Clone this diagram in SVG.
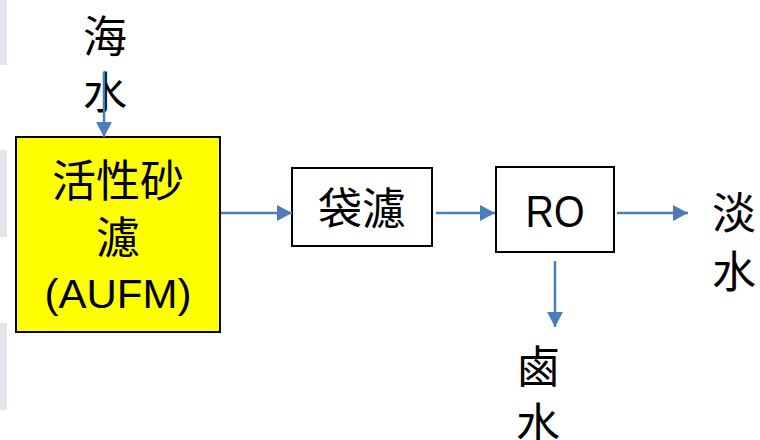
<svg xmlns="http://www.w3.org/2000/svg" width="760" height="440" viewBox="0 0 760 440">
<style>
.box{stroke:#000;stroke-width:2}
.cjk{font-family:"Noto Sans CJK TC","Noto Sans CJK SC",sans-serif;font-size:44px;fill:#000;text-anchor:middle}
.lat{font-family:"Liberation Sans",Arial,sans-serif;fill:#000;text-anchor:middle}
.conn{stroke:#4A7EBB;stroke-width:2.5;fill:none;marker-end:url(#ah)}
</style>
<defs>
<marker id="ah" markerUnits="userSpaceOnUse" markerWidth="15" markerHeight="16" refX="15" refY="8" orient="auto">
<path d="M0,0 L15,8 L0,16 Z" fill="#4A7EBB"/>
</marker>
</defs>
<rect width="760" height="440" fill="#fff"/>
<g id="sidebars" fill="#E1E4E8">
<rect x="0" y="0" width="7" height="65"/>
<rect x="0" y="150" width="7" height="87"/>
<rect x="0" y="323" width="7" height="87"/>
</g>
<g id="node-aufm">
<rect class="box" x="16" y="137" width="204" height="195" fill="#FFFF00"/>
<text class="cjk" x="118" y="197" font-size="46">活性砂<tspan x="118" dy="57">濾</tspan></text>
<text class="lat" x="118" y="308" font-size="40" textLength="147" lengthAdjust="spacingAndGlyphs">(AUFM)</text>
</g>
<g id="node-bag">
<rect class="box" x="292" y="168" width="140" height="78" fill="#fff"/>
<text class="cjk" x="362" y="225">袋濾</text>
</g>
<g id="node-ro">
<rect class="box" x="496" y="167" width="118" height="85" fill="#fff"/>
<text class="lat" x="555" y="227" font-size="44" textLength="59" lengthAdjust="spacingAndGlyphs">RO</text>
</g>
<g id="label-seawater">
<text class="cjk" x="105" y="53">海<tspan x="105" dy="56">水</tspan></text>
</g>
<g id="label-fresh">
<text class="cjk" x="734" y="229">淡<tspan x="734" dy="59">水</tspan></text>
</g>
<g id="label-brine">
<text class="cjk" x="538" y="383">鹵<tspan x="538" dy="57">水</tspan></text>
</g>
<g id="connectors">
<line class="conn" x1="104" y1="72" x2="104" y2="137"/>
<line class="conn" x1="221" y1="213" x2="292" y2="213"/>
<line class="conn" x1="436" y1="213" x2="495" y2="213"/>
<line class="conn" x1="617" y1="213" x2="688" y2="213"/>
<line class="conn" x1="555" y1="261" x2="555" y2="327"/>
</g>
</svg>
